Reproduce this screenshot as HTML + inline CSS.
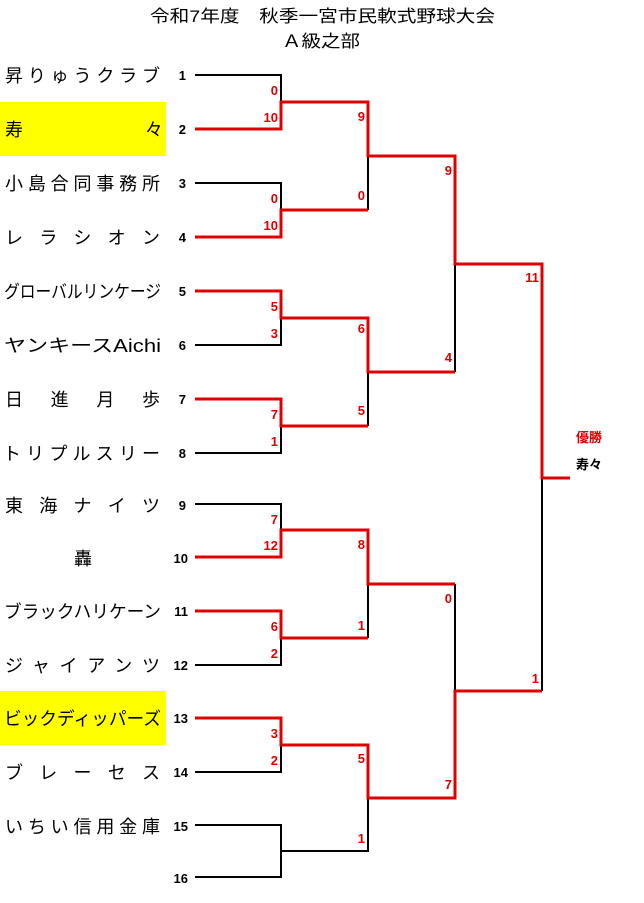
<!DOCTYPE html>
<html><head><meta charset="utf-8"><style>
html,body{margin:0;padding:0;background:#fff;}
svg{display:block;}
text{font-family:"Liberation Sans","Noto Sans CJK JP",sans-serif;}
.n{font-size:18px;fill:#000;}
.num{font-size:13px;font-weight:bold;fill:#000;}
.s{font-size:13px;font-weight:bold;fill:#e00000;}
.k{stroke:#000;stroke-width:2;fill:none;}
.r{stroke:#e00000;stroke-width:3;fill:none;}
</style></head><body>
<svg width="644" height="903" viewBox="0 0 644 903" xmlns="http://www.w3.org/2000/svg">
<text x="150" y="22" textLength="345" lengthAdjust="spacingAndGlyphs" style="font-size:17px">令和7年度　秋季一宮市民軟式野球大会</text>
<text x="282" y="47" textLength="78" lengthAdjust="spacingAndGlyphs" style="font-size:17px">Ａ級之部</text>

<rect x="0" y="102" width="166" height="54" fill="#ffff00"/>
<rect x="0" y="691" width="166" height="54" fill="#ffff00"/>

<g class="n">
<text x="5" y="82" textLength="155" lengthAdjust="spacing">昇りゅうクラブ</text>
<text x="5" y="136">寿</text><text x="145" y="136">々</text>
<text x="5" y="190" textLength="155" lengthAdjust="spacing">小島合同事務所</text>
<text x="5" y="244" textLength="155" lengthAdjust="spacing">レラシオン</text>
<text x="4" y="298" textLength="157" lengthAdjust="spacingAndGlyphs">グローバルリンケージ</text>
<text x="4" y="352" textLength="157" lengthAdjust="spacingAndGlyphs">ヤンキースAichi</text>
<text x="5" y="406" textLength="155" lengthAdjust="spacing">日進月歩</text>
<text x="3" y="460" textLength="157" lengthAdjust="spacing">トリプルスリー</text>
<text x="5" y="512" textLength="155" lengthAdjust="spacing">東海ナイツ</text>
<text x="74" y="565">轟</text>
<text x="4" y="618" textLength="157" lengthAdjust="spacingAndGlyphs">ブラックハリケーン</text>
<text x="5" y="672" textLength="155" lengthAdjust="spacing">ジャイアンツ</text>
<text x="4" y="725" textLength="157" lengthAdjust="spacingAndGlyphs">ビックディッパーズ</text>
<text x="5" y="779" textLength="155" lengthAdjust="spacing">ブレーセス</text>
<text x="5" y="833" textLength="155" lengthAdjust="spacing">いちい信用金庫</text>
</g>

<g class="num" text-anchor="end">
<text x="186" y="80">1</text><text x="186" y="134">2</text><text x="186" y="188">3</text><text x="186" y="242">4</text>
<text x="186" y="296">5</text><text x="186" y="350">6</text><text x="186" y="404">7</text><text x="186" y="458">8</text>
<text x="186" y="510">9</text><text x="188" y="563">10</text><text x="188" y="616">11</text><text x="188" y="670">12</text>
<text x="188" y="723">13</text><text x="188" y="777">14</text><text x="188" y="831">15</text><text x="188" y="883">16</text>
</g>

<path class="k" d="M195 75H281V102 M195 183H281V210 M195 345H281V318 M195 453H281V426 M195 504H281V530 M195 665H281V638 M195 772H281V745 M195 825H281V877H195 M281 851H368V798 M368 210V156 M368 426V372 M368 638V584 M455 372V264 M455 584V691 M542 478V691"/>
<path class="r" d="M195 129H281V102H368V156H455V264H542V478H570"/>
<path class="r" d="M195 237H281V210H368"/>
<path class="r" d="M195 291H281V318H368V372H455"/>
<path class="r" d="M195 399H281V426H368"/>
<path class="r" d="M195 557H281V530H368V584H455"/>
<path class="r" d="M195 611H281V638H368"/>
<path class="r" d="M195 718H281V745H368V798H455V691H542"/>

<g class="s" text-anchor="end">
<text x="278" y="95">0</text><text x="278" y="122">10</text>
<text x="278" y="203">0</text><text x="278" y="230">10</text>
<text x="278" y="311">5</text><text x="278" y="338">3</text>
<text x="278" y="419">7</text><text x="278" y="446">1</text>
<text x="278" y="524">7</text><text x="278" y="550">12</text>
<text x="278" y="631">6</text><text x="278" y="658">2</text>
<text x="278" y="738">3</text><text x="278" y="765">2</text>
<text x="365" y="121">9</text><text x="365" y="200">0</text>
<text x="365" y="333">6</text><text x="365" y="415">5</text>
<text x="365" y="549">8</text><text x="365" y="630">1</text>
<text x="365" y="763">5</text><text x="365" y="843">1</text>
<text x="452" y="175">9</text><text x="452" y="362">4</text>
<text x="452" y="603">0</text><text x="452" y="789">7</text>
<text x="539" y="282">11</text><text x="539" y="683">1</text>
</g>
<text x="576" y="442" style="font-size:13px;font-weight:bold;fill:#e00000">優勝</text>
<text x="576" y="469" style="font-size:13px;font-weight:bold;fill:#000">寿々</text>
</svg>
</body></html>
